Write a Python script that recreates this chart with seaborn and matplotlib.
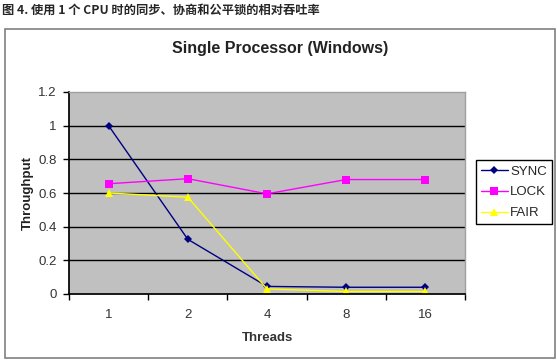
import matplotlib
matplotlib.use("Agg")
import matplotlib.pyplot as plt
import pandas as pd
import seaborn as sns
from matplotlib.patches import Rectangle
from matplotlib.ticker import FixedLocator

# data
threads = ["1", "2", "4", "8", "16"]
sync = [1.0, 0.325, 0.045, 0.04, 0.04]
lock = [0.655, 0.685, 0.595, 0.68, 0.68]
fair = [0.6, 0.575, 0.03, 0.015, 0.015]
series = ["SYNC", "LOCK", "FAIR"]
y_ticks = [0, 0.2, 0.4, 0.6, 0.8, 1, 1.2]

caption = "图 4. 使用 1 个 CPU 时的同步、协商和公平锁的相对吞吐率"
title = "Single Processor (Windows)"

df = pd.DataFrame({
    "Threads": threads * 3,
    "Throughput": sync + lock + fair,
    "series": [s for s in series for _ in threads],
})

sns.set_theme(style="ticks")
plt.rcParams["font.family"] = ["Liberation Sans", "DejaVu Sans"]

fig = plt.figure(figsize=(5.57, 3.63), dpi=100)
fig.patch.set_facecolor("white")

# outer chart frame
fig.patches.append(Rectangle((5 / 557, 5 / 363), 550 / 557, 329 / 363,
                             transform=fig.transFigure, fill=False,
                             edgecolor="#808080", linewidth=1.2))

fig.text(2 / 557, 1 - 10 / 363, caption, fontsize=8.8, fontweight="bold",
         va="center", ha="left",
         family=["Noto Sans CJK SC", "DejaVu Sans"])

ax = fig.add_axes([69 / 557, 69 / 363, 396 / 557, 202 / 363])
ax.set_facecolor("#C0C0C0")

palette = {"SYNC": "#000080", "LOCK": "#FF00FF", "FAIR": "#FFFF00"}
markers = {"SYNC": "D", "LOCK": "s", "FAIR": "^"}
sns.lineplot(data=df, x="Threads", y="Throughput", hue="series",
             style="series", palette=palette, markers=markers, dashes=False,
             markersize=6, markeredgewidth=0, linewidth=1, ax=ax,
             legend=True)

for y in y_ticks[1:-1]:
    ax.axhline(y, color="black", linewidth=1, zorder=0.5)

ax.set_xlim(-0.5, 4.5)
ax.set_ylim(0, 1.2)
ax.set_yticks(y_ticks)
ax.set_yticklabels(["0", "0.2", "0.4", "0.6", "0.8", "1", "1.2"])
ax.xaxis.set_minor_locator(FixedLocator([-0.5, 0.5, 1.5, 2.5, 3.5, 4.5]))
ax.tick_params(axis="x", which="major", length=0, pad=11, labelsize=9.5,
               labelcolor="#333333")
ax.tick_params(axis="x", which="minor", length=4, width=1, color="black",
               direction="out")
ax.tick_params(axis="y", length=4, width=1, color="black", direction="out",
               labelsize=9.5, labelcolor="#333333", pad=5)

for side in ["top", "right"]:
    ax.spines[side].set_visible(True)
    ax.spines[side].set_color("#A0A0A0")
    ax.spines[side].set_linewidth(1)
ax.spines["left"].set_color("black")
ax.spines["bottom"].set_color("black")

ax.set_xlabel("Threads", fontsize=9.5, fontweight="bold", color="#333333",
              labelpad=8)
ax.set_ylabel("Throughput", fontsize=9.5, fontweight="bold", color="#222222",
              labelpad=3)

fig.text(280 / 557, 1 - 49 / 363, title, fontsize=11.5, fontweight="bold",
         ha="center", va="center", color="#222222")

handles, labels = ax.get_legend_handles_labels()
ax.legend(handles, labels, loc="upper left",
          bbox_to_anchor=(476 / 557, 1 - 160 / 363),
          bbox_transform=fig.transFigure, frameon=True, fancybox=False,
          edgecolor="black", facecolor="white", framealpha=1, fontsize=9.5,
          handlelength=2.0, handletextpad=0.2, labelspacing=0.65,
          borderpad=0.4, borderaxespad=0)
ax.get_legend().get_frame().set_linewidth(1)

# the diamonds are drawn a bit smaller in the original, legend too
for line in ax.lines + ax.get_legend().get_lines():
    if line.get_marker() == "D":
        line.set_markersize(4.5)

fig.savefig("out.png", dpi=100)
